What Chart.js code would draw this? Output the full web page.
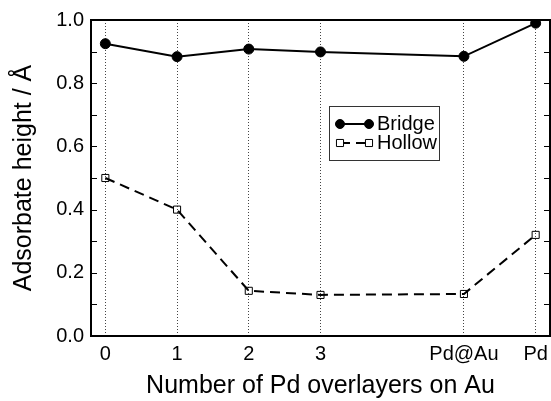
<!DOCTYPE html>
<html>
<head>
<meta charset="utf-8">
<script src="https://cdn.jsdelivr.net/npm/chart.js@4.4.0/dist/chart.umd.min.js"></script>
<style>
  html, body { margin: 0; padding: 0; background: #fff; }
  #wrap { width: 551px; height: 401px; }
</style>
</head>
<body>
<div id="wrap"><canvas id="heightChart" width="551" height="401"></canvas></div>
<script>
// x positions of each structure and their tick labels
const xPositions = [0, 1, 2, 3, 5, 6];
const xLabels = ['0', '1', '2', '3', 'Pd@Au', 'Pd'];
const yTicks = [0, 0.2, 0.4, 0.6, 0.8, 1.0];
const yMinorTicks = [0.1, 0.3, 0.5, 0.7, 0.9];

// adsorbate heights (Å)
const bridge = [0.925, 0.884, 0.908, 0.899, 0.885, 0.990];
const hollow = [0.500, 0.400, 0.143, 0.130, 0.133, 0.320];

const FONT = '"Liberation Sans", Arial, Helvetica, sans-serif';

function toPoints(vals) {
  return vals.map((v, i) => ({ x: xPositions[i], y: v }));
}

// frame, inward ticks and the boxed legend
const framePlugin = {
  id: 'frame',
  afterDraw(chart) {
    const { ctx, chartArea: a, scales } = chart;
    const ys = scales.y;
    ctx.save();
    ctx.strokeStyle = '#000';
    ctx.lineWidth = 1;
    [...yTicks, ...yMinorTicks].forEach(v => {
      const py = Math.round(ys.getPixelForValue(v)) + 0.5;
      ctx.beginPath();
      ctx.moveTo(a.left, py); ctx.lineTo(a.left + 6, py);
      ctx.moveTo(a.right, py); ctx.lineTo(a.right - 6, py);
      ctx.stroke();
    });
    ctx.lineWidth = 2;
    ctx.strokeRect(a.left, a.top, a.right - a.left, a.bottom - a.top);

    // legend
    const lx = 329.5, ly = 106.5, lw = 110, lh = 54;
    ctx.lineWidth = 1;
    ctx.strokeStyle = '#333';
    ctx.fillStyle = '#fff';
    ctx.fillRect(lx, ly, lw, lh);
    ctx.strokeRect(lx, ly, lw, lh);
    ctx.font = '20px ' + FONT;
    ctx.textBaseline = 'middle';
    chart.data.datasets.forEach((ds, i) => {
      const y = 124 + i * 19;
      const x0 = 340, x1 = 369;
      ctx.strokeStyle = '#000';
      ctx.lineWidth = ds.borderWidth;
      ctx.setLineDash(ds.borderDash || []);
      ctx.beginPath();
      ctx.moveTo(x0, y); ctx.lineTo(x1, y);
      ctx.stroke();
      ctx.setLineDash([]);
      [x0, x1].forEach(px => {
        ctx.strokeStyle = '#000';
        ctx.lineWidth = ds.pointBorderWidth;
        ctx.beginPath();
        if (ds.pointStyle === 'rect') {
          const s = Math.SQRT1_2 * ds.pointRadius;
          ctx.rect(px - s, y - s, 2 * s, 2 * s);
          ctx.fillStyle = '#fff';
          ctx.fill();
        } else {
          ctx.arc(px, y, ds.pointRadius - 0.5, 0, Math.PI * 2);
          ctx.fillStyle = '#000';
          ctx.fill();
        }
        ctx.stroke();
      });
      ctx.fillStyle = '#000';
      ctx.fillText(ds.label, 377, y);
    });
    ctx.restore();
  }
};

new Chart(document.getElementById('heightChart'), {
  type: 'line',
  data: {
    datasets: [
      {
        label: 'Bridge',
        data: toPoints(bridge),
        borderColor: '#000',
        borderWidth: 2,
        pointStyle: 'circle',
        pointRadius: 5,
        pointBorderWidth: 1,
        pointBackgroundColor: '#000',
        pointBorderColor: '#000'
      },
      {
        label: 'Hollow',
        data: toPoints(hollow),
        borderColor: '#000',
        borderWidth: 2,
        borderDash: [10, 6],
        pointStyle: 'rect',
        pointRadius: 5,
        pointBorderWidth: 1,
        pointBackgroundColor: 'rgba(0,0,0,0)',
        pointBorderColor: '#000'
      }
    ]
  },
  options: {
    responsive: false,
    animation: false,
    layout: { autoPadding: false, padding: { top: 20, right: 1, left: 0, bottom: 0 } },
    plugins: { legend: { display: false }, tooltip: { enabled: false } },
    scales: {
      x: {
        type: 'linear',
        min: -0.2,
        max: 6.2,
        afterBuildTicks: s => { s.ticks = xPositions.map(v => ({ value: v })); },
        afterFit: s => { s.height = 65; s.paddingLeft = 0; s.paddingRight = 0; },
        ticks: {
          color: '#000',
          padding: 6,
          font: { family: FONT, size: 20 },
          callback: (v, i) => xLabels[i]
        },
        grid: { color: '#444', lineWidth: 1, drawTicks: false },
        border: { display: false, dash: [1, 2] },
        title: {
          display: true,
          text: 'Number of Pd overlayers on Au',
          color: '#000',
          font: { family: FONT, size: 25 },
          padding: { top: 5, bottom: 0 }
        }
      },
      y: {
        min: 0,
        max: 1.0,
        afterBuildTicks: s => { s.ticks = yTicks.map(v => ({ value: v })); },
        afterFit: s => { s.width = 91; },
        ticks: {
          color: '#000',
          padding: 7,
          font: { family: FONT, size: 20 },
          callback: v => v.toFixed(1)
        },
        grid: { display: false, drawTicks: false },
        border: { display: false },
        title: {
          display: true,
          text: 'Adsorbate height / Å',
          color: '#000',
          font: { family: FONT, size: 25 },
          padding: { top: 9, bottom: 0 }
        }
      }
    }
  },
  plugins: [framePlugin]
});
</script>
</body>
</html>
